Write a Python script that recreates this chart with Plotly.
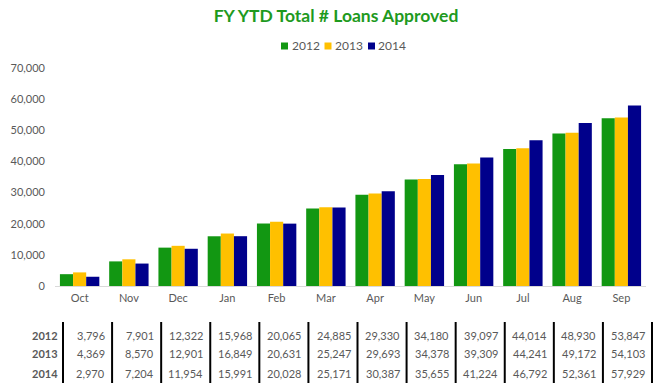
import plotly.graph_objects as go

months = ["Oct", "Nov", "Dec", "Jan", "Feb", "Mar", "Apr", "May", "Jun", "Jul", "Aug", "Sep"]
years = ["2012", "2013", "2014"]
v2012 = [3796, 7901, 12322, 15968, 20065, 24885, 29330, 34180, 39097, 44014, 48930, 53847]
v2013 = [4369, 8570, 12901, 16849, 20631, 25247, 29693, 34378, 39309, 44241, 49172, 54103]
v2014 = [2970, 7204, 11954, 15991, 20028, 25171, 30387, 35655, 41224, 46792, 52361, 57929]
yticks = [0, 10000, 20000, 30000, 40000, 50000, 60000, 70000]

series = [v2012, v2013, v2014]
colors = ["#129712", "#FFC000", "#00008B"]
FONT = "Lato"
GRAY = "#595959"

W, H = 658, 387
ML, MR, MT, MB = 55, 12, 68, 101
PW = W - ML - MR
PH = H - MT - MB

fig = go.Figure()
for name, vals, col in zip(years, series, colors):
    fig.add_trace(go.Bar(x=months, y=vals, name=name, marker_color=col,
                         marker_line_width=0, showlegend=False))

def px2paper_x(px):
    return (px - ML) / PW

def px2paper_y(py):
    return (H - MB - py) / PH

annotations = []
shapes = []

# compact legend (Excel-style)
legend_x0 = 281
legend_step = 43.5
for i, (name, col) in enumerate(zip(years, colors)):
    x = legend_x0 + i * legend_step
    shapes.append(dict(type="rect", xref="paper", yref="paper",
                       x0=px2paper_x(x), x1=px2paper_x(x + 7),
                       y0=px2paper_y(49.5), y1=px2paper_y(42.5),
                       fillcolor=col, line=dict(width=0)))
    annotations.append(dict(text=name, xref="paper", yref="paper",
                            x=px2paper_x(x + 8.5), y=px2paper_y(46),
                            xanchor="left", yanchor="middle", showarrow=False,
                            font=dict(family=FONT, size=12, color=GRAY)))

# data table under chart
sep_start = 63
sep_step = (652 - 63) / 12
row_y = [335, 353, 373]
for i in range(13):
    x = sep_start + i * sep_step
    shapes.append(dict(type="line", xref="paper", yref="paper",
                       x0=px2paper_x(x), x1=px2paper_x(x),
                       y0=px2paper_y(322), y1=px2paper_y(383),
                       line=dict(color="black", width=2)))
for r, (name, vals) in enumerate(zip(years, series)):
    annotations.append(dict(text=f"<b>{name}</b>", xref="paper", yref="paper",
                            x=px2paper_x(sep_start - 3), y=px2paper_y(row_y[r]),
                            xanchor="right", yanchor="middle", showarrow=False,
                            font=dict(family=FONT, size=11, color=GRAY)))
    for c, v in enumerate(vals):
        x_right = sep_start + (c + 1) * sep_step - 5
        annotations.append(dict(text=f"{v:,}", xref="paper", yref="paper",
                                x=px2paper_x(x_right), y=px2paper_y(row_y[r]),
                                xanchor="right", yanchor="middle", showarrow=False,
                                font=dict(family=FONT, size=11, color=GRAY)))

fig.update_layout(
    width=W, height=H,
    margin=dict(l=ML, r=MR, t=MT, b=MB),
    paper_bgcolor="white", plot_bgcolor="white",
    barmode="group", bargap=0.2, bargroupgap=0,
    title=dict(text="<b>FY YTD Total # Loans Approved</b>", x=336 / W, xanchor="center",
               y=1 - 16 / H, yanchor="middle",
               font=dict(family=FONT, size=17.5, color="#1E9A1E")),
    showlegend=False,
    xaxis=dict(showline=True, linecolor="#D9D9D9", linewidth=1, ticks="",
               tickfont=dict(family=FONT, size=11, color=GRAY), showgrid=False,
               ticklabelstandoff=2),
    yaxis=dict(range=[0, 70000], tickvals=yticks, tickformat=",", showgrid=False,
               zeroline=False, showline=False, ticks="", ticklabelstandoff=9,
               tickfont=dict(family=FONT, size=11, color=GRAY)),
    annotations=annotations, shapes=shapes,
    font=dict(family=FONT),
)

fig.write_html("out.html", config={"displayModeBar": False},
               post_script="document.body.style.margin='0';document.body.style.overflow='hidden';")
